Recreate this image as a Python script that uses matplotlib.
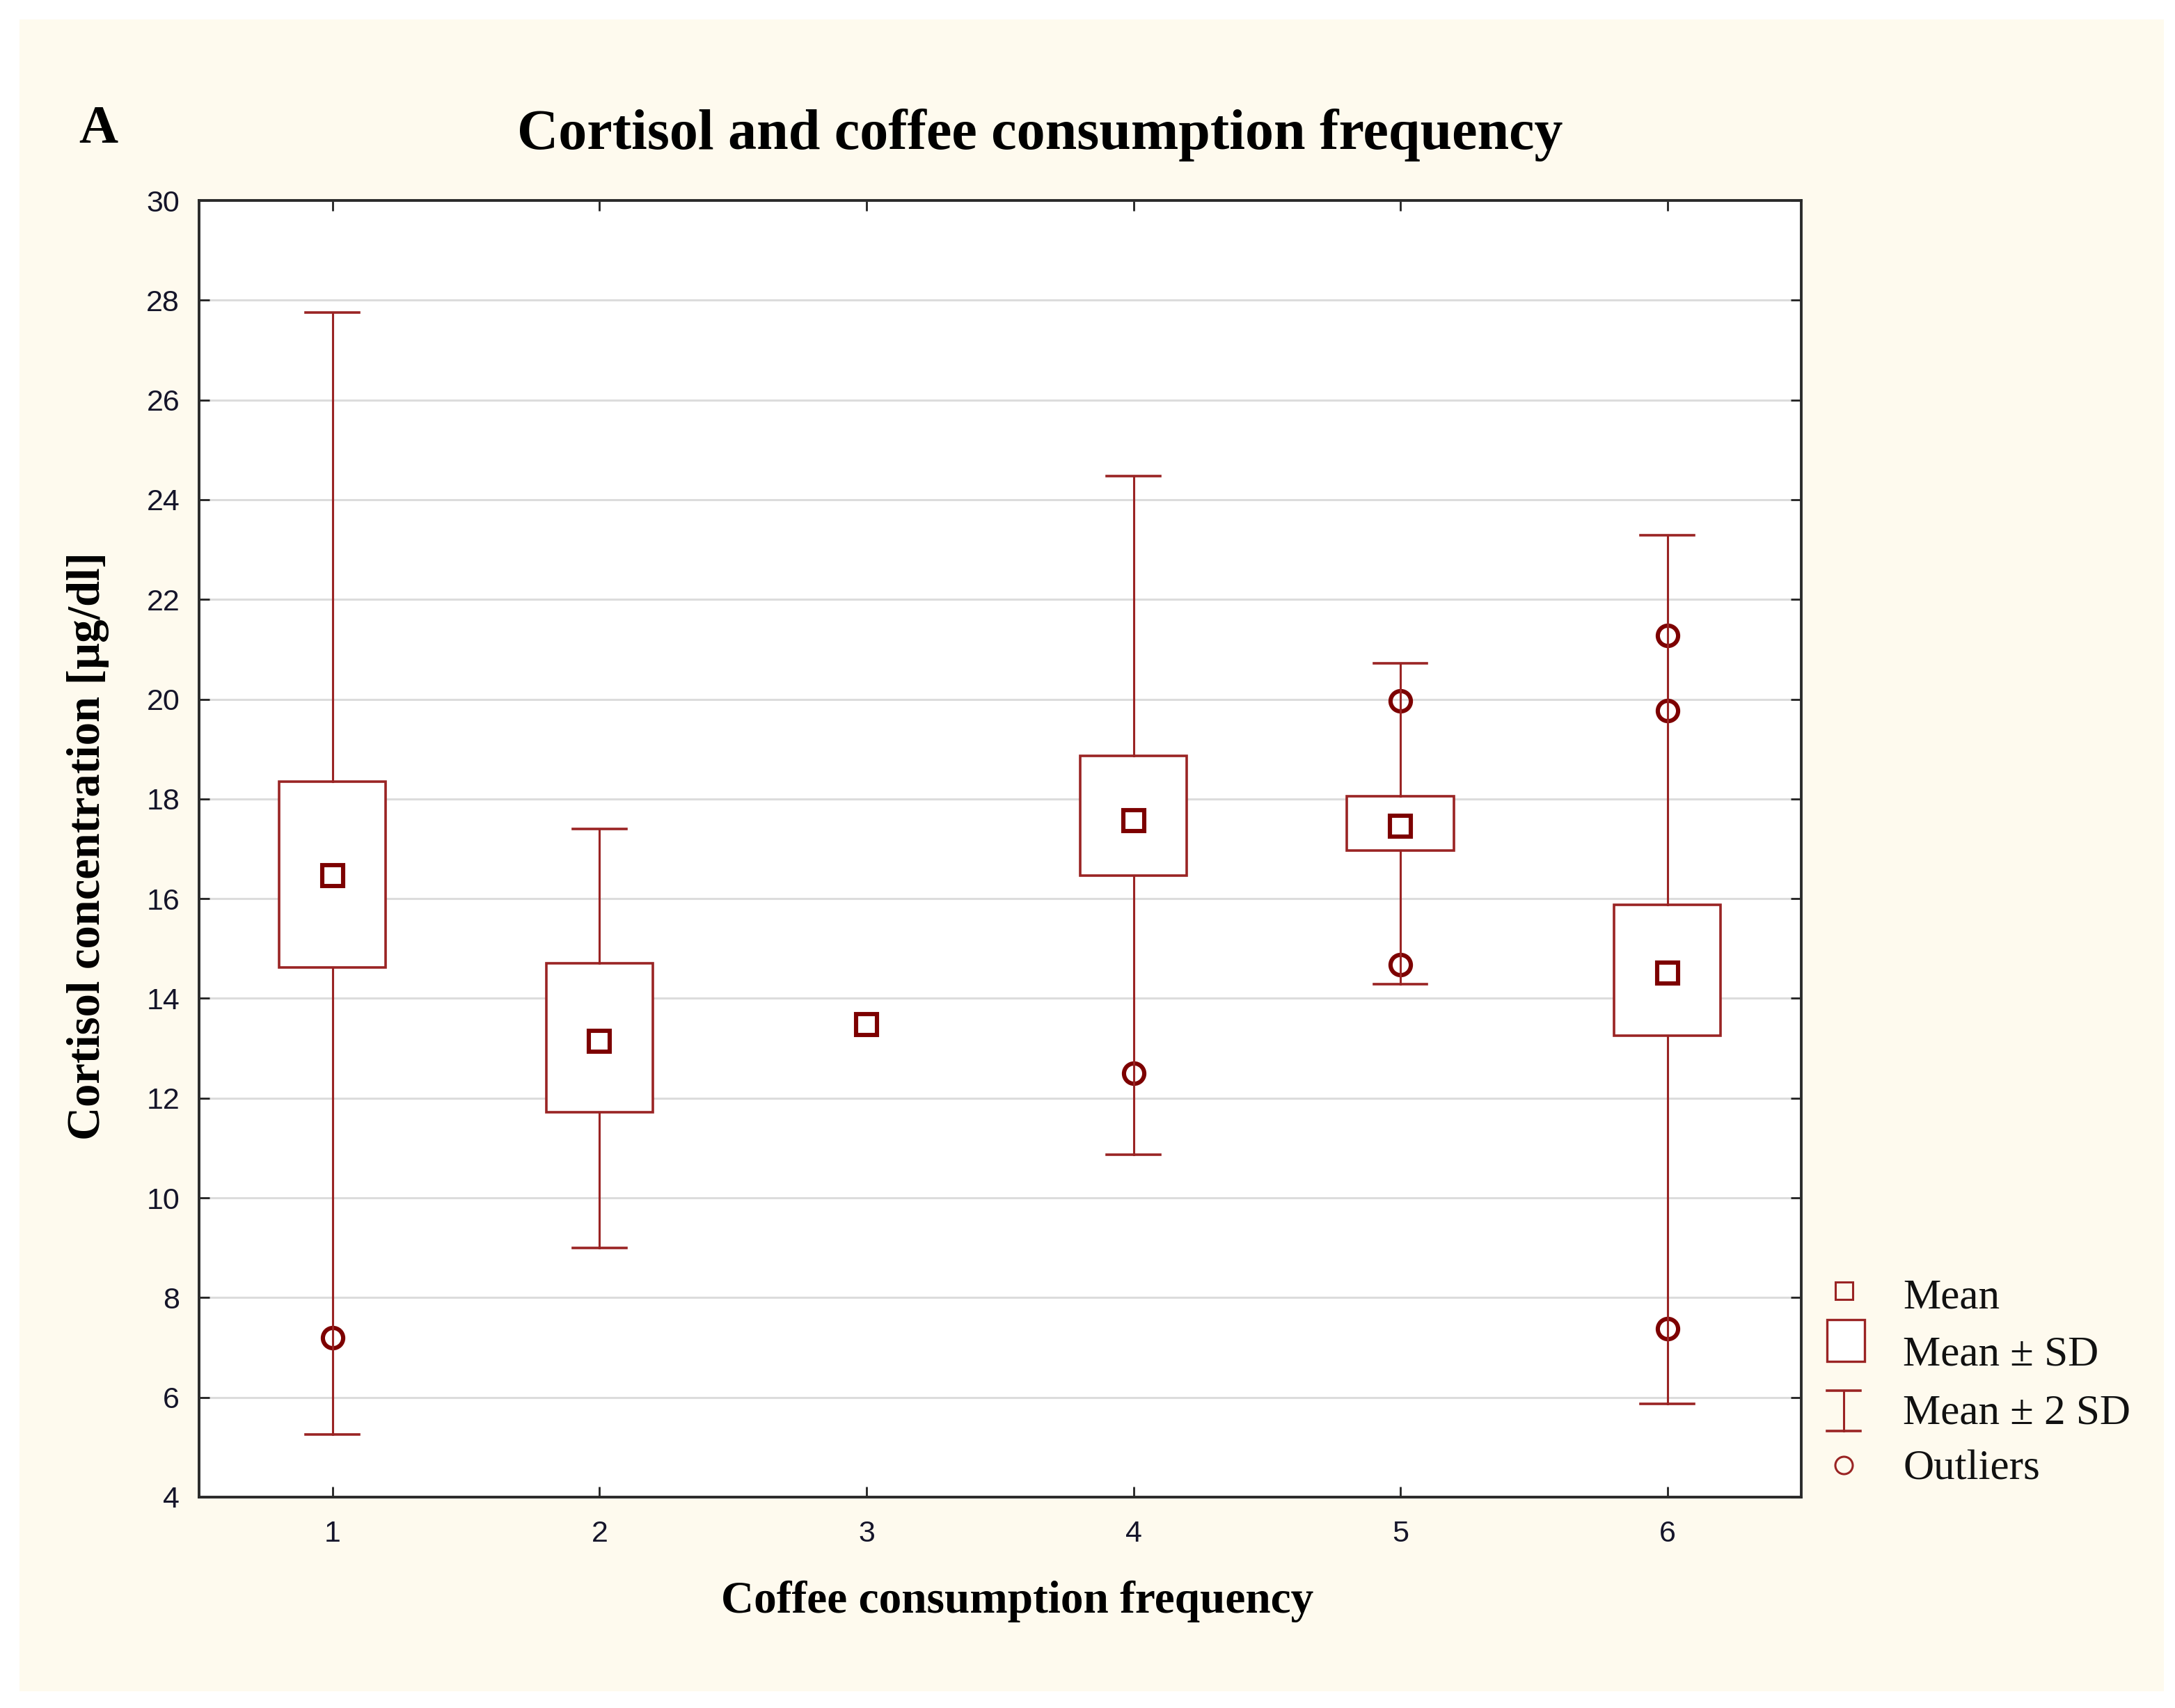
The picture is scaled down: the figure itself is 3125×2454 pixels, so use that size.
import matplotlib
matplotlib.use('Agg')
import matplotlib.pyplot as plt
from matplotlib.lines import Line2D
from matplotlib.patches import Rectangle

# values (cortisol, ug/dl)
groups = [1, 2, 3, 4, 5, 6]
means = [16.46, 13.14, 13.48, 17.57, 17.46, 14.51]
sd_low = [14.62, 11.72, None, 16.46, 16.96, 13.25]
sd_high = [18.35, 14.70, None, 18.86, 18.05, 15.87]
sd2_low = [5.25, 8.99, None, 10.86, 14.28, 5.87]
sd2_high = [27.75, 17.40, None, 24.48, 20.72, 23.29]
outlier_x = [1, 4, 5, 5, 6, 6, 6]
outlier_y = [7.20, 12.50, 19.97, 14.67, 21.28, 19.77, 7.37]

yticks = list(range(4, 31, 2))

LINE = '#9a2424'
MARK = '#7d0000'
CREAM = '#fefaee'
SERIF = ['Liberation Serif', 'DejaVu Serif']
NARROW = ['Liberation Sans Narrow', 'Liberation Sans', 'DejaVu Sans']

fig = plt.figure(figsize=(15.625, 12.27), dpi=200)
fig.patch.set_facecolor('white')
fig.add_artist(Rectangle((0.009, 0.0098), 0.986, 0.9788, transform=fig.transFigure,
                         facecolor=CREAM, edgecolor='none', zorder=-10))

ax = fig.add_axes([0.0915, 0.1235, 0.7365, 0.7591])
ax.set_facecolor('white')
ax.set_xlim(0.5, 6.5)
ax.set_ylim(4, 30)
ax.set_yticks(yticks)
ax.set_xticks(groups)
ax.grid(axis='y', color='#dcdcdc', lw=1.1, zorder=0)
ax.set_axisbelow(True)
ax.tick_params(direction='in', top=True, right=True, length=5.5, width=1.0,
               color='#222222', labelsize=15.5)
ax.tick_params(axis='y', pad=10)
ax.tick_params(axis='x', pad=12)
for lab in ax.get_xticklabels() + ax.get_yticklabels():
    lab.set_family(NARROW)
    lab.set_color('#15152a')
for sp in ax.spines.values():
    sp.set_linewidth(1.4)
    sp.set_color('#2a2a2a')

box_w = 0.4
cap_w = 0.2
for i, g in enumerate(groups):
    if sd_low[i] is not None:
        # whiskers (mean +- 2 SD)
        ax.plot([g, g], [sd2_low[i], sd_low[i]], color=LINE, lw=1.1, zorder=4)
        ax.plot([g, g], [sd_high[i], sd2_high[i]], color=LINE, lw=1.1, zorder=4)
        ax.plot([g - cap_w / 2, g + cap_w / 2], [sd2_low[i]] * 2, color=LINE, lw=1.3, zorder=4)
        ax.plot([g - cap_w / 2, g + cap_w / 2], [sd2_high[i]] * 2, color=LINE, lw=1.3, zorder=4)
        # box (mean +- SD)
        ax.add_patch(Rectangle((g - box_w / 2, sd_low[i]), box_w, sd_high[i] - sd_low[i],
                               facecolor='white', edgecolor=LINE, lw=1.3, zorder=3))

ax.plot(outlier_x, outlier_y, 'o', ms=10.5, mfc='none', mec=MARK, mew=2.2, zorder=3.5)
ax.plot(groups, means, 's', ms=10.5, mfc='white', mec=MARK, mew=2.2, zorder=5)

# texts
fig.text(0.0363, 0.9166, 'A', family=SERIF, weight='bold', fontsize=28, ha='left', va='baseline')
fig.text(0.478, 0.9128, 'Cortisol and coffee consumption frequency', family=SERIF,
         weight='bold', fontsize=29.5, ha='center', va='baseline')
fig.text(0.4676, 0.0558, 'Coffee consumption frequency', family=SERIF, weight='bold',
         fontsize=23.5, ha='center', va='baseline')
fig.text(0.0459, 0.5045, 'Cortisol concentration [µg/dl]', family=SERIF, weight='bold',
         fontsize=24, ha='center', va='baseline', rotation=90, rotation_mode='anchor')

# legend drawn by hand, outside the axes
hx = 0.8477
tx = 0.8749
fig.add_artist(Line2D([hx], [1 - 927 / 1227], marker='s', ms=9, mfc='none', mec=LINE,
                      mew=1.1, transform=fig.transFigure))
fig.add_artist(Rectangle((1313 / 1563, 1 - 978 / 1227), 27 / 1563, 30 / 1227,
                         facecolor='white', edgecolor=LINE, lw=1.2, transform=fig.transFigure))
ib_top = 1 - 999 / 1227
ib_bot = 1 - 1028 / 1227
cw = 24 / 1563
fig.add_artist(Line2D([hx, hx], [ib_bot, ib_top], color=LINE, lw=1.1, transform=fig.transFigure))
fig.add_artist(Line2D([hx - cw / 2, hx + cw / 2], [ib_top, ib_top], color=LINE, lw=1.3,
                      transform=fig.transFigure))
fig.add_artist(Line2D([hx - cw / 2, hx + cw / 2], [ib_bot, ib_bot], color=LINE, lw=1.3,
                      transform=fig.transFigure))
fig.add_artist(Line2D([hx], [1 - 1052.5 / 1227], marker='o', ms=9, mfc='none', mec=LINE,
                      mew=1.1, transform=fig.transFigure))

legend_labels = ['Mean', 'Mean ± SD', 'Mean ± 2 SD', 'Outliers']
legend_base = [940, 981, 1022.5, 1062.5]
for lab, by in zip(legend_labels, legend_base):
    fig.text(tx, 1 - by / 1227, lab, family=SERIF, fontsize=22, ha='left', va='baseline',
             color='#111111')

fig.savefig('out.png', dpi=200, facecolor='white')
